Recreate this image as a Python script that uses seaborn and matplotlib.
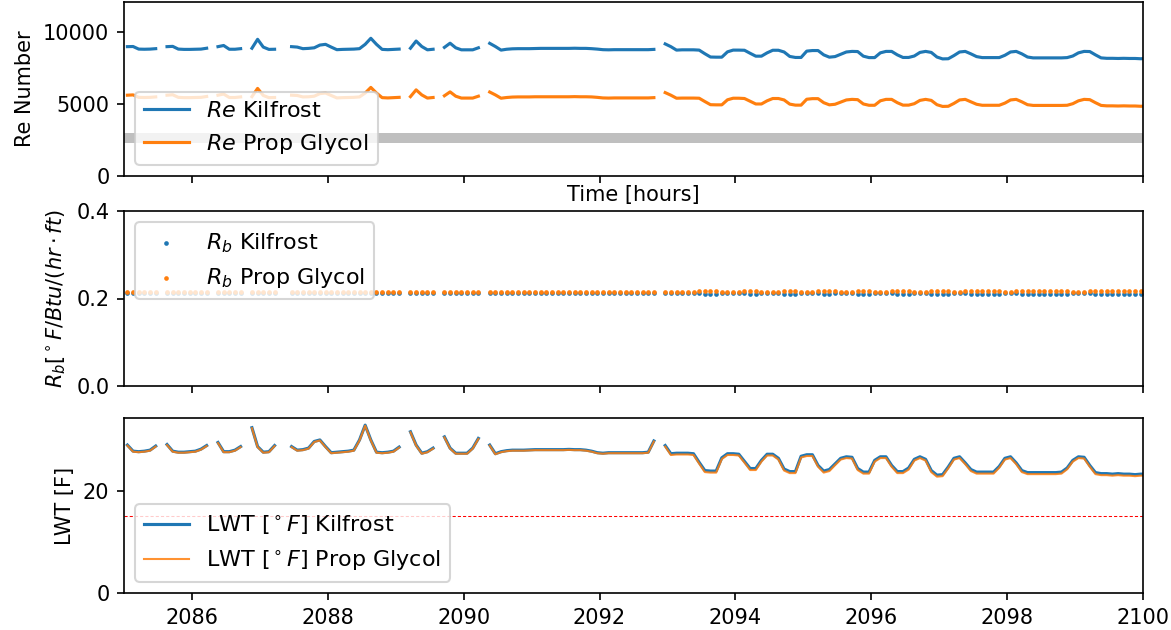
import numpy as np
import pandas as pd
import matplotlib
matplotlib.use("Agg")
import matplotlib.pyplot as plt
from matplotlib.lines import Line2D
import seaborn as sns

nan = np.nan

# sampling: every 5 minutes (1/12 h), first sample just after hour 2085
t_first = 2085.05
t_step = 1.0 / 12.0

# Leaving water temperature [F]
lwt_kilfrost = [
    29.0, 27.8, 27.7, 27.8, 28.0, 28.8, nan, 29.1, 27.8, 27.6, 27.6, 27.7,
    27.8, 28.2, 28.9, nan, 29.5, 27.7, 27.7, 28.0, 28.7, nan, 32.4, 28.7,
    27.6, 27.7, 28.9, nan, nan, 28.7, 28.0, 28.1, 28.4, 29.7, 30.0, 28.7,
    27.5, 27.6, 27.7, 27.8, 28.0, 30.0, 32.9, 30.0, 27.6, 27.5, 27.6, 27.8,
    28.6, nan, 31.6, 29.0, 27.4, 27.7, 28.4, nan, 30.6, 28.4, 27.4, 27.4,
    27.4, 28.4, 30.3, nan, 29.0, 27.3, 27.7, 27.9, 28.0, 28.0, 28.0, 28.05,
    28.1, 28.1, 28.1, 28.1, 28.1, 28.1, 28.15, 28.1, 28.1, 28.0, 27.8, 27.5,
    27.4, 27.5, 27.5, 27.5, 27.5, 27.5, 27.5, 27.5, 27.6, 29.8, nan, 28.9,
    27.3, 27.4, 27.4, 27.4, 27.3, 25.6, 24.0, 23.9, 23.9, 26.5, 27.3, 27.3,
    27.2, 25.8, 24.4, 24.4, 26.0, 27.2, 27.2, 26.4, 24.3, 23.8, 23.8, 26.8,
    27.1, 27.1, 25.0, 23.9, 24.2, 25.3, 26.4, 26.7, 26.6, 24.4, 23.7, 23.7,
    26.0, 26.7, 26.7, 25.0, 23.8, 23.8, 24.5, 26.2, 26.7, 26.2, 24.0, 23.1,
    23.2, 24.7, 26.4, 26.7, 25.5, 24.2, 23.7, 23.7, 23.7, 23.7, 24.8, 26.4,
    26.7, 25.5, 24.0, 23.6, 23.6, 23.6, 23.6, 23.6, 23.6, 23.7, 24.5, 26.0,
    26.7, 26.6, 25.0, 23.6, 23.4, 23.4, 23.3, 23.4, 23.3, 23.3, 23.2, 23.3,
    23.3,
]
lwt_glycol = [
    28.9, 27.7, 27.6, 27.7, 27.9, 28.7, nan, 29.0, 27.7, 27.5, 27.5, 27.6,
    27.7, 28.1, 28.8, nan, 29.4, 27.6, 27.6, 27.9, 28.6, nan, 32.3, 28.6,
    27.5, 27.6, 28.8, nan, nan, 28.6, 27.9, 28.0, 28.3, 29.6, 29.9, 28.6,
    27.4, 27.5, 27.6, 27.7, 27.9, 29.9, 32.8, 29.9, 27.5, 27.4, 27.5, 27.7,
    28.5, nan, 31.5, 28.9, 27.3, 27.6, 28.3, nan, 30.5, 28.3, 27.3, 27.3,
    27.3, 28.3, 30.2, nan, 28.9, 27.2, 27.6, 27.8, 27.9, 27.9, 27.9, 27.95,
    28.0, 28.0, 28.0, 28.0, 28.0, 28.0, 28.05, 28.0, 28.0, 27.9, 27.7, 27.4,
    27.3, 27.4, 27.4, 27.4, 27.4, 27.4, 27.4, 27.4, 27.5, 29.7, nan, 28.7,
    27.05, 27.15, 27.15, 27.15, 27.05, 25.35, 23.7, 23.6, 23.6, 26.25, 27.05, 27.05,
    26.95, 25.55, 24.1, 24.1, 25.75, 26.95, 26.95, 26.15, 24.0, 23.5, 23.5, 26.55,
    26.85, 26.85, 24.75, 23.6, 23.9, 25.05, 26.15, 26.45, 26.35, 24.1, 23.4, 23.4,
    25.75, 26.45, 26.45, 24.75, 23.5, 23.5, 24.2, 25.95, 26.45, 25.95, 23.7, 22.8,
    22.9, 24.45, 26.15, 26.45, 25.25, 23.9, 23.4, 23.4, 23.4, 23.4, 24.55, 26.15,
    26.45, 25.25, 23.7, 23.3, 23.3, 23.3, 23.3, 23.3, 23.3, 23.4, 24.25, 25.75,
    26.45, 26.35, 24.75, 23.3, 23.1, 23.1, 23.0, 23.1, 23.0, 23.0, 22.9, 23.0,
    23.0,
]

# Reynolds numbers
re_kilfrost = [
    8980, 8990, 8810, 8800, 8810, 8840, nan, 8980, 9000, 8810, 8790, 8790,
    8800, 8810, 8870, nan, 8980, 9060, 8800, 8800, 8840, nan, 8870, 9490,
    8950, 8790, 8800, nan, nan, 8980, 8950, 8840, 8860, 8900, 9090, 9140,
    8950, 8770, 8790, 8800, 8810, 8840, 9140, 9560, 9140, 8790, 8770, 8790,
    8810, nan, 8870, 9370, 8990, 8760, 8800, nan, 8930, 9220, 8900, 8760,
    8760, 8760, 8900, nan, 9210, 8990, 8740, 8800, 8830, 8840, 8840, 8840,
    8850, 8860, 8860, 8860, 8860, 8860, 8860, 8870, 8860, 8860, 8840, 8810,
    8770, 8760, 8770, 8770, 8770, 8770, 8770, 8770, 8770, 8790, nan, 9170,
    8980, 8740, 8760, 8760, 8760, 8740, 8490, 8260, 8250, 8250, 8620, 8740,
    8740, 8730, 8520, 8320, 8320, 8550, 8730, 8730, 8610, 8300, 8230, 8230,
    8670, 8710, 8710, 8410, 8250, 8290, 8450, 8610, 8650, 8640, 8320, 8220,
    8220, 8550, 8650, 8650, 8410, 8230, 8230, 8330, 8580, 8650, 8580, 8260,
    8130, 8140, 8360, 8610, 8650, 8480, 8290, 8220, 8220, 8220, 8220, 8380,
    8610, 8650, 8480, 8260, 8200, 8200, 8200, 8200, 8200, 8200, 8220, 8330,
    8550, 8650, 8640, 8410, 8200, 8170, 8170, 8160, 8170, 8160, 8160, 8140,
    8160,
]
re_glycol = [
    5610, 5630, 5460, 5450, 5460, 5490, nan, 5610, 5640, 5460, 5440, 5440,
    5450, 5460, 5520, nan, 5610, 5690, 5450, 5450, 5490, nan, 5510, 6080,
    5590, 5440, 5450, nan, nan, 5610, 5590, 5490, 5500, 5540, 5720, 5760,
    5590, 5420, 5440, 5450, 5460, 5490, 5760, 6150, 5760, 5440, 5420, 5440,
    5460, nan, 5510, 5980, 5630, 5410, 5450, nan, 5570, 5840, 5540, 5410,
    5410, 5410, 5540, nan, 5830, 5630, 5400, 5450, 5480, 5490, 5490, 5490,
    5500, 5500, 5500, 5500, 5500, 5500, 5500, 5510, 5500, 5500, 5490, 5460,
    5420, 5410, 5420, 5420, 5420, 5420, 5420, 5420, 5420, 5440, nan, 5790,
    5610, 5400, 5410, 5410, 5410, 5400, 5170, 4950, 4940, 4940, 5290, 5400,
    5400, 5380, 5190, 5000, 5000, 5220, 5380, 5380, 5280, 4990, 4920, 4920,
    5330, 5370, 5370, 5090, 4940, 4980, 5130, 5280, 5320, 5300, 5000, 4910,
    4910, 5220, 5320, 5320, 5090, 4920, 4920, 5020, 5250, 5320, 5250, 4950,
    4830, 4840, 5040, 5280, 5320, 5150, 4980, 4910, 4910, 4910, 4910, 5060,
    5280, 5320, 5150, 4950, 4900, 4900, 4900, 4900, 4900, 4900, 4910, 5020,
    5220, 5320, 5300, 5090, 4900, 4870, 4870, 4860, 4870, 4860, 4860, 4840,
    4860,
]

# Borehole resistance
rb_kilfrost = [
    .2135, .2135, .2135, .2135, .2135, .2135, nan, .2135, .2135, .2135, .2135, .2135,
    .2135, .2135, .2135, nan, .2135, .2135, .2135, .2135, .2135, nan, .2135, .2135,
    .2135, .2135, .2135, nan, nan, .2135, .2135, .2135, .2135, .2135, .2135, .2135,
    .2135, .2135, .2135, .2135, .2135, .2135, .2135, .2135, .2135, .2135, .2135, .2135,
    .2135, nan, .2135, .2135, .2135, .2135, .2135, nan, .2135, .2135, .2135, .2135,
    .2135, .2135, .2135, nan, .2135, .2135, .2135, .2135, .2135, .2135, .2135, .2135,
    .2135, .2135, .2135, .2135, .2135, .2135, .2135, .2135, .2135, .2135, .2135, .2135,
    .2135, .2135, .2135, .2135, .2135, .2135, .2135, .2135, .2135, .2135, nan, .2135,
    .2135, .2135, .2135, .2135, .2135, .2120, .2105, .2105, .2105, .2135, .2135, .2135,
    .2135, .2120, .2105, .2105, .2135, .2135, .2135, .2135, .2105, .2105, .2105, .2135,
    .2135, .2135, .2120, .2105, .2105, .2120, .2135, .2135, .2135, .2105, .2105, .2105,
    .2135, .2135, .2135, .2120, .2105, .2105, .2105, .2135, .2135, .2135, .2105, .2105,
    .2105, .2105, .2135, .2135, .2120, .2105, .2105, .2105, .2105, .2105, .2105, .2135,
    .2135, .2120, .2105, .2105, .2105, .2105, .2105, .2105, .2105, .2105, .2105, .2135,
    .2135, .2135, .2120, .2105, .2105, .2105, .2105, .2105, .2105, .2105, .2105, .2105,
    .2105,
]
rb_glycol = [
    .2145, .2145, .2145, .2145, .2145, .2145, nan, .2145, .2145, .2145, .2145, .2145,
    .2145, .2145, .2145, nan, .2145, .2145, .2145, .2145, .2145, nan, .2145, .2145,
    .2145, .2145, .2145, nan, nan, .2145, .2145, .2145, .2145, .2145, .2145, .2145,
    .2145, .2145, .2145, .2145, .2145, .2145, .2145, .2145, .2145, .2145, .2145, .2145,
    .2145, nan, .2145, .2145, .2145, .2145, .2145, nan, .2145, .2145, .2145, .2145,
    .2145, .2145, .2145, nan, .2145, .2145, .2145, .2145, .2145, .2145, .2145, .2145,
    .2145, .2145, .2145, .2145, .2145, .2145, .2145, .2145, .2145, .2145, .2145, .2145,
    .2145, .2145, .2145, .2145, .2145, .2145, .2145, .2145, .2145, .2145, nan, .2150,
    .2150, .2150, .2150, .2150, .2150, .2165, .2180, .2180, .2180, .2150, .2150, .2150,
    .2150, .2165, .2180, .2180, .2150, .2150, .2150, .2150, .2180, .2180, .2180, .2150,
    .2150, .2150, .2165, .2180, .2180, .2165, .2150, .2150, .2150, .2180, .2180, .2180,
    .2150, .2150, .2150, .2165, .2180, .2180, .2180, .2150, .2150, .2150, .2180, .2180,
    .2180, .2180, .2150, .2150, .2165, .2180, .2180, .2180, .2180, .2180, .2180, .2150,
    .2150, .2165, .2180, .2180, .2180, .2180, .2180, .2180, .2180, .2180, .2180, .2150,
    .2150, .2150, .2165, .2180, .2180, .2180, .2180, .2180, .2180, .2180, .2180, .2180,
    .2180,
]

re_band = (2300, 3000)   # transition region
lwt_limit = 15

n = len(lwt_kilfrost)
time = t_first + t_step * np.arange(n)
df = pd.DataFrame({
    "time": time,
    "lwt_k": lwt_kilfrost, "lwt_g": lwt_glycol,
    "re_k": re_kilfrost, "re_g": re_glycol,
    "rb_k": rb_kilfrost, "rb_g": rb_glycol,
})
df["seg"] = np.cumsum(np.isnan(df["lwt_k"].values))

blue, orange = "#1f77b4", "#ff7f0e"
leg_fs = 10.7

fig = plt.figure(figsize=(1171 / 150, 630 / 150), dpi=150)
left, width = 124 / 1171, (1143 - 124) / 1171
ax1 = fig.add_axes([left, 1 - 176 / 630, width, 174 / 630])
ax2 = fig.add_axes([left, 1 - 386 / 630, width, 175 / 630], sharex=ax1)
ax3 = fig.add_axes([left, 1 - 593 / 630, width, 175 / 630], sharex=ax1)

# --- Re panel
ax1.axhspan(re_band[0], re_band[1], color="#bfbfbf", lw=0, zorder=0)
sns.lineplot(data=df, x="time", y="re_k", units="seg", estimator=None,
             color=blue, lw=1.5, ax=ax1, legend=False)
sns.lineplot(data=df, x="time", y="re_g", units="seg", estimator=None,
             color=orange, lw=1.5, ax=ax1, legend=False)
ax1.set_ylim(0, 12080)
ax1.set_yticks([0, 5000, 10000])
ax1.set_ylabel("Re Number")
ax1.set_xlabel("Time [hours]", labelpad=1)
ax1.legend(handles=[Line2D([], [], color=blue, lw=1.5),
                    Line2D([], [], color=orange, lw=1.5)],
           labels=["$Re$ Kilfrost", "$Re$ Prop Glycol"], loc="lower left",
           fontsize=leg_fs)

# --- Rb panel
sns.scatterplot(data=df, x="time", y="rb_k", color=blue, s=5, linewidth=0,
                ax=ax2, label="$R_b$ Kilfrost")
sns.scatterplot(data=df, x="time", y="rb_g", color=orange, s=5, linewidth=0,
                ax=ax2, label="$R_b$ Prop Glycol")
ax2.set_ylim(0, 0.4)
ax2.set_yticks([0.0, 0.2, 0.4])
ax2.set_ylabel(r"$R_b[^\circ F/Btu/(hr \cdot ft)$")
ax2.set_xlabel("")
ax2.legend(loc="upper left", fontsize=leg_fs)

# --- LWT panel
ax3.axhline(lwt_limit, color="red", ls="--", lw=0.5, dashes=(3, 2))
sns.lineplot(data=df, x="time", y="lwt_k", units="seg", estimator=None,
             color=blue, lw=1.5, ax=ax3, legend=False)
sns.lineplot(data=df, x="time", y="lwt_g", units="seg", estimator=None,
             color=orange, lw=1.0, alpha=0.85, ax=ax3, legend=False)
ax3.set_ylim(0, 34.3)
ax3.set_yticks([0, 20])
ax3.set_ylabel("LWT [F]")
ax3.set_xlabel("")
ax3.legend(handles=[Line2D([], [], color=blue, lw=1.5),
                    Line2D([], [], color=orange, lw=1.0, alpha=0.85)],
           labels=[r"LWT [$^\circ F$] Kilfrost", r"LWT [$^\circ F$] Prop Glycol"],
           loc="lower left", fontsize=leg_fs)

ax3.set_xlim(2085, 2100)
ax3.set_xticks(np.arange(2086, 2101, 2))
for ax in (ax1, ax2):
    ax.tick_params(labelbottom=False)

fig.savefig("out.png", dpi=150)
